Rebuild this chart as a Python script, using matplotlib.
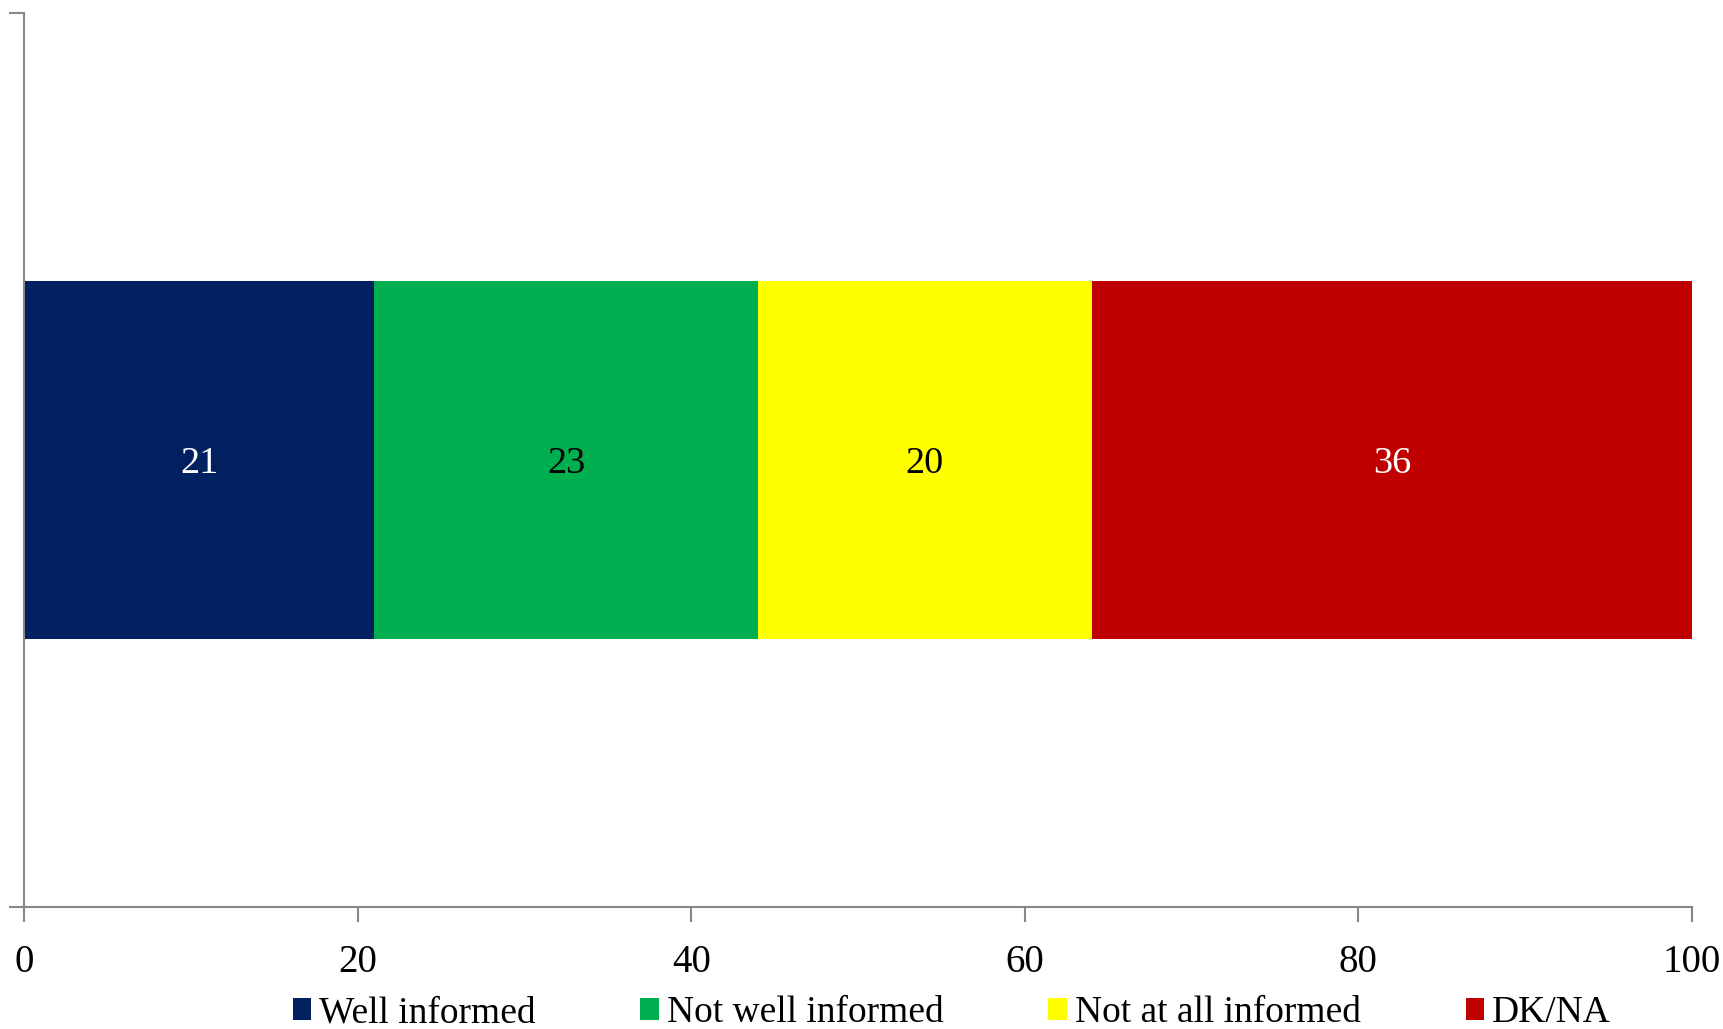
import matplotlib.pyplot as plt
from matplotlib.patches import Patch

# data
categories = ['Well informed', 'Not well informed', 'Not at all informed', 'DK/NA']
values = [21, 23, 20, 36]
colors = ['#002060', '#00B050', '#FFFF00', '#C00000']
label_colors = ['white', 'black', 'black', 'white']
xticks = [0, 20, 40, 60, 80, 100]

plt.rcParams['font.family'] = ['Liberation Serif', 'DejaVu Serif']

fig = plt.figure(figsize=(17.24, 10.29), dpi=100)
ax = fig.add_axes([24 / 1724, 1 - 907 / 1029, (1692 - 24) / 1724, (907 - 13) / 1029])

left = 0
for v, c, lc in zip(values, colors, label_colors):
    ax.barh(0, v, left=left, height=0.4, color=c)
    ax.text(left + v / 2, -0.004, str(v), ha='center', va='center', color=lc, fontsize=27.5)
    left += v

ax.set_xlim(0, 100)
ax.set_ylim(-0.5, 0.5)
ax.set_xticks(xticks)
ax.set_xticklabels([str(t) for t in xticks], fontsize=28)
ax.set_yticks([-0.5, 0.5])
ax.set_yticklabels([])

grey = '#868686'
for s in ['top', 'right']:
    ax.spines[s].set_visible(False)
for s in ['left', 'bottom']:
    ax.spines[s].set_color(grey)
    ax.spines[s].set_linewidth(1.5)
ax.tick_params(axis='x', colors=grey, labelcolor='black', length=11, width=1.5, pad=16, direction='out')
ax.tick_params(axis='y', colors=grey, length=11, width=1.5, direction='out')

handles = [Patch(facecolor=c, edgecolor='none') for c in colors]
fig.legend(handles, categories, loc='center', bbox_to_anchor=(0.552, 1 - 1013 / 1029),
           ncol=4, frameon=False, fontsize=27, handlelength=0.5, handleheight=0.5,
           handletextpad=0.2, columnspacing=2.8, borderpad=0)

fig.savefig('out.png', dpi=100)
